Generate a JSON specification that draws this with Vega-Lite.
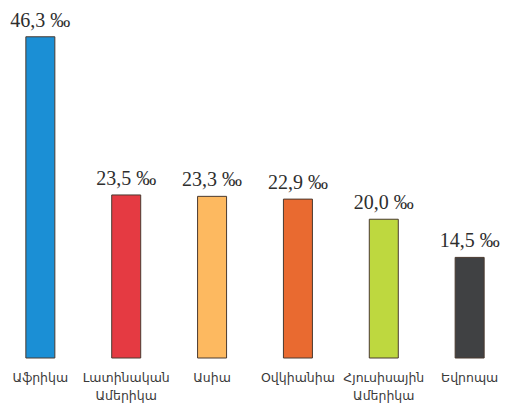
{
  "$schema": "https://vega.github.io/schema/vega-lite/v6.json",
  "width": 510,
  "height": 358,
  "autosize": {"type": "none"},
  "padding": {"left": 0, "top": 0, "right": 0, "bottom": 46},
  "background": "white",
  "config": {"view": {"stroke": null}},
  "data": {
    "values": [
      {"region": "Աֆրիկա", "rate": 46.3, "label": "46,3 ‰", "color": "#1b8fd5"},
      {"region": "Լատինական|Ամերիկա", "rate": 23.5, "label": "23,5 ‰", "color": "#e53a42"},
      {"region": "Ասիա", "rate": 23.3, "label": "23,3 ‰", "color": "#fdb960"},
      {"region": "Օվկիանիա", "rate": 22.9, "label": "22,9 ‰", "color": "#e96a30"},
      {"region": "Հյուսիսային|Ամերիկա", "rate": 20.0, "label": "20,0 ‰", "color": "#bed83f"},
      {"region": "Եվրոպա", "rate": 14.5, "label": "14,5 ‰", "color": "#404143"}
    ]
  },
  "encoding": {
    "x": {
      "field": "region",
      "type": "nominal",
      "sort": null,
      "scale": {"paddingOuter": 0.02},
      "axis": {
        "title": null,
        "labelAngle": 0,
        "domain": false,
        "ticks": false,
        "labelOverlap": false,
        "labelPadding": 13,
        "labelFont": "DejaVu Sans",
        "labelFontSize": 12.5,
        "labelColor": "#3a3a3a",
        "labelLineHeight": 18,
        "labelExpr": "split(datum.value, '|')"
      }
    },
    "y": {
      "field": "rate",
      "type": "quantitative",
      "scale": {"domain": [0, 51.6], "nice": false},
      "axis": null
    }
  },
  "layer": [
    {
      "mark": {"type": "bar", "size": 29, "stroke": "#4a3a30", "strokeWidth": 1},
      "encoding": {"color": {"field": "color", "type": "nominal", "scale": null}}
    },
    {
      "mark": {"type": "text", "baseline": "alphabetic", "dy": -10, "font": "Liberation Serif", "fontSize": 20, "color": "#2e2e2e"},
      "encoding": {"text": {"field": "label"}}
    }
  ]
}
